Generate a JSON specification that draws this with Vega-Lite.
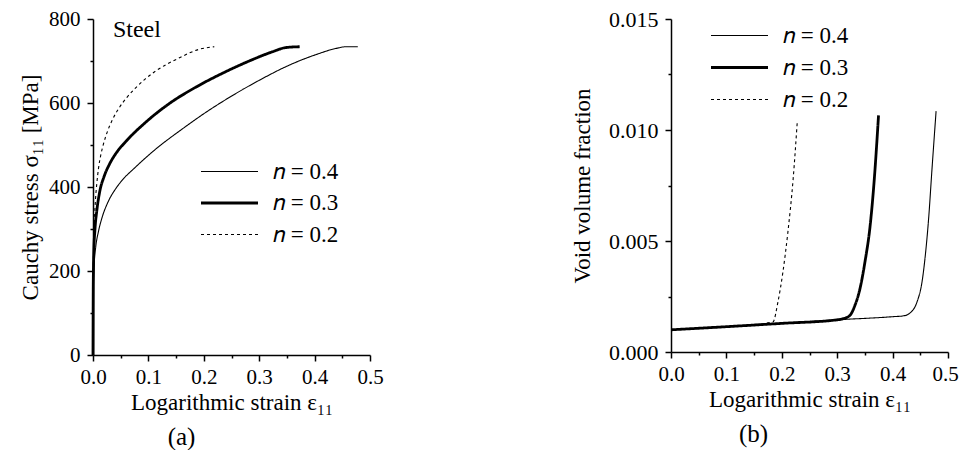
{
  "$schema": "https://vega.github.io/schema/vega-lite/v6.json",
  "background": "white",
  "padding": {"left": 19, "top": 8, "right": 0, "bottom": 0},
  "config": {
    "font": "Liberation Serif",
    "view": {"stroke": null},
    "axis": {"grid": false, "domainColor": "black", "tickColor": "black", "labelColor": "black", "titleColor": "black",
      "labelFont": "Liberation Serif", "titleFont": "Liberation Serif", "labelFontSize": 21, "titleFontSize": 23,
      "titleFontWeight": "normal", "domainWidth": 1.5, "tickWidth": 1.5, "tickSize": 6, "labelFlush": false,
      "labelPadding": 5, "labelOverlap": false, "labelBound": false},
    "legend": {"labelFont": "Liberation Serif", "labelFontSize": 23, "labelColor": "black"}
  },
  "datasets": {
    "stress": [
      {"n": "0.4", "strain": 0, "stress": 0}, {"n": "0.4", "strain": 0.0005, "stress": 150}, {"n": "0.4", "strain": 0.002, "stress": 215},
      {"n": "0.4", "strain": 0.005, "stress": 258}, {"n": "0.4", "strain": 0.01, "stress": 295}, {"n": "0.4", "strain": 0.017, "stress": 330},
      {"n": "0.4", "strain": 0.027, "stress": 364}, {"n": "0.4", "strain": 0.041, "stress": 396}, {"n": "0.4", "strain": 0.056, "stress": 421},
      {"n": "0.4", "strain": 0.074, "stress": 444}, {"n": "0.4", "strain": 0.092, "stress": 466},
      {"n": "0.4", "strain": 0.113, "stress": 490}, {"n": "0.4", "strain": 0.161, "stress": 538}, {"n": "0.4", "strain": 0.204, "stress": 578},
      {"n": "0.4", "strain": 0.252, "stress": 618}, {"n": "0.4", "strain": 0.3, "stress": 654}, {"n": "0.4", "strain": 0.354, "stress": 690},
      {"n": "0.4", "strain": 0.402, "stress": 715}, {"n": "0.4", "strain": 0.439, "stress": 730}, {"n": "0.4", "strain": 0.457, "stress": 734},
      {"n": "0.4", "strain": 0.478, "stress": 734},
      {"n": "0.3", "strain": 0, "stress": 0}, {"n": "0.3", "strain": 0.0005, "stress": 170}, {"n": "0.3", "strain": 0.0015, "stress": 245},
      {"n": "0.3", "strain": 0.0035, "stress": 298}, {"n": "0.3", "strain": 0.007, "stress": 345},
      {"n": "0.3", "strain": 0.012, "stress": 388}, {"n": "0.3", "strain": 0.02, "stress": 425}, {"n": "0.3", "strain": 0.03, "stress": 455},
      {"n": "0.3", "strain": 0.043, "stress": 483}, {"n": "0.3", "strain": 0.059, "stress": 508},
      {"n": "0.3", "strain": 0.095, "stress": 554}, {"n": "0.3", "strain": 0.137, "stress": 598}, {"n": "0.3", "strain": 0.186, "stress": 638},
      {"n": "0.3", "strain": 0.234, "stress": 671}, {"n": "0.3", "strain": 0.282, "stress": 700}, {"n": "0.3", "strain": 0.324, "stress": 722},
      {"n": "0.3", "strain": 0.348, "stress": 732}, {"n": "0.3", "strain": 0.373, "stress": 734},
      {"n": "0.2", "strain": 0, "stress": 0}, {"n": "0.2", "strain": 0.0005, "stress": 185}, {"n": "0.2", "strain": 0.0013, "stress": 265},
      {"n": "0.2", "strain": 0.0026, "stress": 322}, {"n": "0.2", "strain": 0.0045, "stress": 370},
      {"n": "0.2", "strain": 0.007, "stress": 410}, {"n": "0.2", "strain": 0.01, "stress": 445}, {"n": "0.2", "strain": 0.014, "stress": 476},
      {"n": "0.2", "strain": 0.019, "stress": 503}, {"n": "0.2", "strain": 0.026, "stress": 532}, {"n": "0.2", "strain": 0.035, "stress": 560},
      {"n": "0.2", "strain": 0.047, "stress": 588}, {"n": "0.2", "strain": 0.061, "stress": 613}, {"n": "0.2", "strain": 0.077, "stress": 636},
      {"n": "0.2", "strain": 0.094, "stress": 657}, {"n": "0.2", "strain": 0.113, "stress": 676},
      {"n": "0.2", "strain": 0.155, "stress": 707}, {"n": "0.2", "strain": 0.192, "stress": 728}, {"n": "0.2", "strain": 0.219, "stress": 734}
    ],
    "void": [
      {"n": "0.4", "strain": 0, "f": 0.001}, {"n": "0.4", "strain": 0.1, "f": 0.00114}, {"n": "0.4", "strain": 0.2, "f": 0.00129},
      {"n": "0.4", "strain": 0.3, "f": 0.00145}, {"n": "0.4", "strain": 0.4, "f": 0.00159}, {"n": "0.4", "strain": 0.42, "f": 0.00163},
      {"n": "0.4", "strain": 0.432, "f": 0.00177}, {"n": "0.4", "strain": 0.444, "f": 0.00225}, {"n": "0.4", "strain": 0.453, "f": 0.00314},
      {"n": "0.4", "strain": 0.459, "f": 0.00434}, {"n": "0.4", "strain": 0.465, "f": 0.006}, {"n": "0.4", "strain": 0.471, "f": 0.0082},
      {"n": "0.4", "strain": 0.4785, "f": 0.01085},
      {"n": "0.3", "strain": 0, "f": 0.001}, {"n": "0.3", "strain": 0.1, "f": 0.00114}, {"n": "0.3", "strain": 0.2, "f": 0.00129},
      {"n": "0.3", "strain": 0.3, "f": 0.00145}, {"n": "0.3", "strain": 0.311, "f": 0.0015}, {"n": "0.3", "strain": 0.323, "f": 0.00165},
      {"n": "0.3", "strain": 0.332, "f": 0.0021}, {"n": "0.3", "strain": 0.341, "f": 0.00284}, {"n": "0.3", "strain": 0.35, "f": 0.00404},
      {"n": "0.3", "strain": 0.3595, "f": 0.0057}, {"n": "0.3", "strain": 0.367, "f": 0.0078}, {"n": "0.3", "strain": 0.3746, "f": 0.01066},
      {"n": "0.2", "strain": 0, "f": 0.001}, {"n": "0.2", "strain": 0.1, "f": 0.00114}, {"n": "0.2", "strain": 0.184, "f": 0.00135},
      {"n": "0.2", "strain": 0.193, "f": 0.00225}, {"n": "0.2", "strain": 0.202, "f": 0.0036}, {"n": "0.2", "strain": 0.211, "f": 0.0054},
      {"n": "0.2", "strain": 0.2205, "f": 0.0078}, {"n": "0.2", "strain": 0.228, "f": 0.0104}
    ],
    "annot": [{"label": "Steel"}]
  },
  "hconcat": [
    {
      "width": 277, "height": 336,
      "title": {"text": "(a)", "orient": "bottom", "anchor": "middle", "frame": "group", "font": "Liberation Serif", "fontSize": 25, "fontWeight": "normal", "color": "black", "dx": -50, "offset": 11},
      "layer": [
        {
          "data": {"name": "stress"},
          "mark": {"type": "line", "color": "black", "interpolate": "monotone"},
          "encoding": {
            "x": {"field": "strain", "type": "quantitative", "scale": {"domain": [0, 0.5], "nice": false},
              "axis": {"values": [0, 0.1, 0.2, 0.3, 0.4, 0.5], "format": ".1f", "title": "Logarithmic strain ε₁₁", "titlePadding": 4, "labelFont": "Liberation Serif"}},
            "y": {"field": "stress", "type": "quantitative", "scale": {"domain": [0, 800], "nice": false},
              "axis": {"values": [0, 200, 400, 600, 800], "format": "d", "title": "Cauchy stress σ₁₁ [MPa]", "titlePadding": 6, "labelPadding": 7, "labelFont": "Liberation Serif"}},
            "strokeWidth": {"field": "n", "type": "nominal", "scale": {"type": "ordinal", "domain": ["0.4", "0.3", "0.2"], "range": [1.1, 2.8, 1.1]},
              "legend": {"title": null, "orient": "none", "legendX": 125, "legendY": 141, "symbolType": "M-3,0H3", "symbolSize": 361,
                "symbolStrokeColor": "black", "labelExpr": "'𝑛 = ' + datum.label", "rowPadding": 7.5, "labelOffset": 32, "labelFont": "Liberation Serif"}},
            "strokeDash": {"field": "n", "type": "nominal", "scale": {"type": "ordinal", "domain": ["0.4", "0.3", "0.2"], "range": [[1, 0], [1, 0], [3, 3]]},
              "legend": {"title": null, "orient": "none", "legendX": 125, "legendY": 141, "symbolType": "M-3,0H3", "symbolSize": 361,
                "symbolStrokeColor": "black", "labelExpr": "'𝑛 = ' + datum.label", "rowPadding": 7.5, "labelOffset": 32, "labelFont": "Liberation Serif"}}
          }
        },
        {
          "data": {"name": "stress"},
          "mark": {"type": "point", "opacity": 0},
          "encoding": {
            "x": {"field": "strain", "type": "quantitative", "axis": {"orient": "bottom", "values": [0.05, 0.15, 0.25, 0.35, 0.45], "labels": false, "domain": false, "tickSize": 3, "title": null}},
            "y": {"field": "stress", "type": "quantitative", "axis": {"orient": "left", "values": [100, 300, 500, 700], "labels": false, "domain": false, "tickSize": 3, "title": null}}
          }
        },
        {
          "data": {"name": "annot"},
          "mark": {"type": "text", "font": "Liberation Serif", "fontSize": 24, "align": "left", "baseline": "middle", "color": "black"},
          "encoding": {
            "text": {"field": "label"},
            "x": {"datum": 0.036, "type": "quantitative", "axis": null},
            "y": {"datum": 775, "type": "quantitative", "axis": null}
          }
        }
      ],
      "resolve": {"axis": {"x": "independent", "y": "independent"}}
    },
    {
      "width": 277, "height": 333,
      "title": {"text": "(b)", "orient": "bottom", "anchor": "middle", "frame": "group", "font": "Liberation Serif", "fontSize": 25, "fontWeight": "normal", "color": "black", "dx": -56, "offset": 11},
      "layer": [
        {
          "data": {"name": "void"},
          "mark": {"type": "line", "color": "black", "interpolate": "monotone"},
          "encoding": {
            "x": {"field": "strain", "type": "quantitative", "scale": {"domain": [0, 0.5], "nice": false},
              "axis": {"values": [0, 0.1, 0.2, 0.3, 0.4, 0.5], "format": ".1f", "title": "Logarithmic strain ε₁₁", "titlePadding": 4, "labelFont": "Liberation Serif",
                "labelOffset": {"condition": {"test": "datum.value == 0.5", "value": -3}, "value": 0}}},
            "y": {"field": "f", "type": "quantitative", "scale": {"domain": [0, 0.015], "nice": false},
              "axis": {"values": [0, 0.005, 0.01, 0.015], "format": ".3f", "title": "Void volume fraction", "titlePadding": 14, "labelPadding": 7, "labelFontSize": 22, "labelFont": "Liberation Serif"}},
            "strokeWidth": {"field": "n", "type": "nominal", "scale": {"type": "ordinal", "domain": ["0.4", "0.3", "0.2"], "range": [1.1, 2.8, 1.1]},
              "legend": {"title": null, "orient": "none", "legendX": 57, "legendY": 5, "symbolType": "M-3,0H3", "symbolSize": 361,
                "symbolStrokeColor": "black", "labelExpr": "'𝑛 = ' + datum.label", "rowPadding": 8, "labelOffset": 32, "labelFont": "Liberation Serif"}},
            "strokeDash": {"field": "n", "type": "nominal", "scale": {"type": "ordinal", "domain": ["0.4", "0.3", "0.2"], "range": [[1, 0], [1, 0], [3, 3]]},
              "legend": {"title": null, "orient": "none", "legendX": 57, "legendY": 5, "symbolType": "M-3,0H3", "symbolSize": 361,
                "symbolStrokeColor": "black", "labelExpr": "'𝑛 = ' + datum.label", "rowPadding": 8, "labelOffset": 32, "labelFont": "Liberation Serif"}}
          }
        },
        {
          "data": {"name": "void"},
          "mark": {"type": "point", "opacity": 0},
          "encoding": {
            "x": {"field": "strain", "type": "quantitative", "axis": {"orient": "bottom", "values": [0.05, 0.15, 0.25, 0.35, 0.45], "labels": false, "domain": false, "tickSize": 3, "title": null}},
            "y": {"field": "f", "type": "quantitative", "axis": {"orient": "left", "values": [0.0025, 0.0075, 0.0125], "labels": false, "domain": false, "tickSize": 3, "title": null}}
          }
        }
      ],
      "resolve": {"axis": {"x": "independent", "y": "independent"}}
    }
  ],
  "spacing": 187,
  "resolve": {"scale": {"strokeWidth": "independent", "strokeDash": "independent"}}
}
